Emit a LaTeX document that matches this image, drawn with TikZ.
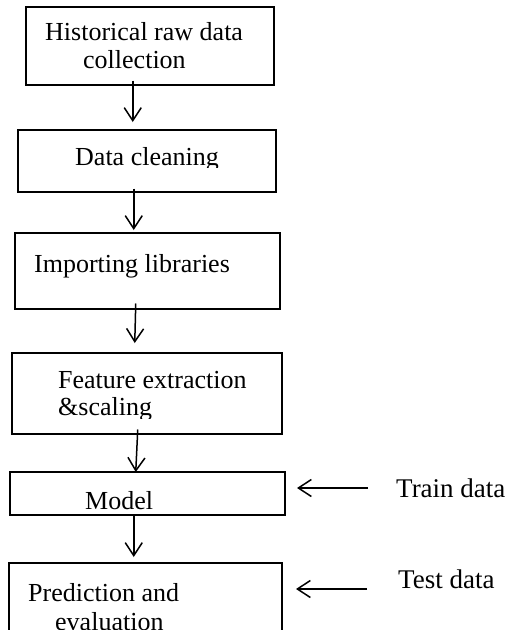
\documentclass[tikz,border=0pt]{standalone}
\usepackage{fontspec}
\setmainfont{Liberation Serif}
\usetikzlibrary{arrows.meta}
\begin{document}
\begin{tikzpicture}[x=1pt,y=-1pt,
  stage/.style={draw, line width=1.5pt, rectangle, inner sep=0pt, anchor=north west},
  lbl/.style={anchor=base west, inner sep=0pt, font=\fontsize{26}{28}\selectfont},
  side/.style={anchor=base west, inner sep=0pt, font=\fontsize{27}{30}\selectfont},
  flow/.style={line width=1.5pt, -{Straight Barb[length=13pt,width=17pt,line width=1.5pt]}}]
\useasboundingbox (0,0) rectangle (507,630);
\clip (0,0) rectangle (507,630);
% boxes
\node[stage, minimum width=248pt, minimum height=78pt] (b1) at (25,6) {};
\node[stage, minimum width=258pt, minimum height=62pt] (b2) at (17,129) {};
\node[stage, minimum width=265pt, minimum height=76pt] (b3) at (14,232) {};
\node[stage, minimum width=270pt, minimum height=81pt] (b4) at (11,352) {};
\node[stage, minimum width=275pt, minimum height=43pt] (b5) at (9,471) {};
\node[stage, minimum width=273pt, minimum height=90pt] (b6) at (8,562) {};
% texts
\node[lbl] (t1a) at (45,40) {Historical raw data};
\node[lbl] (t1b) at (83,68) {collection};
\begin{scope}
\clip (0,0) rectangle (507,167);
\node[lbl] (t2) at (75,165) {Data cleaning};
\end{scope}
\node[lbl] (t3) at (34,272) {Importing libraries};
\node[lbl] (t4a) at (58,388) {Feature extraction};
\begin{scope}
\clip (0,0) rectangle (507,418);
\node[lbl] (t4b) at (58,415) {\&scaling};
\end{scope}
\node[lbl] (t5) at (85,509) {Model};
\node[lbl] (t6a) at (28,601) {Prediction and};
\node[lbl] (t6b) at (55,630) {evaluation};
\node[side] (tr) at (396,497) {Train data};
\node[side] (te) at (398,588) {Test data};
% vertical connectors
\draw[flow] ([xshift=-17pt,yshift=5pt]b1.south) -- ([xshift=-14pt,yshift=7pt]b2.north);
\draw[flow] ([xshift=-13pt,yshift=4pt]b2.south) -- ([xshift=-13.5pt,yshift=2pt]b3.north);
\draw[flow] ([xshift=-11.5pt,yshift=6pt]b3.south) -- ([xshift=-12pt,yshift=9pt]b4.north);
\draw[flow] ([xshift=-9pt,yshift=5pt]b4.south) -- ([xshift=-11.5pt,yshift=-1pt]b5.north);
\draw[flow] ([xshift=-13.5pt]b5.south) -- ([xshift=-11.5pt,yshift=5pt]b6.north);
% side connectors
\coordinate (trs) at (368,488);
\coordinate (trt) at (297,488);
\coordinate (tes) at (367,589);
\coordinate (tet) at (296,589);
\draw[flow] (trs) -- (trt);
\draw[flow] (tes) -- (tet);
\end{tikzpicture}
\end{document}
